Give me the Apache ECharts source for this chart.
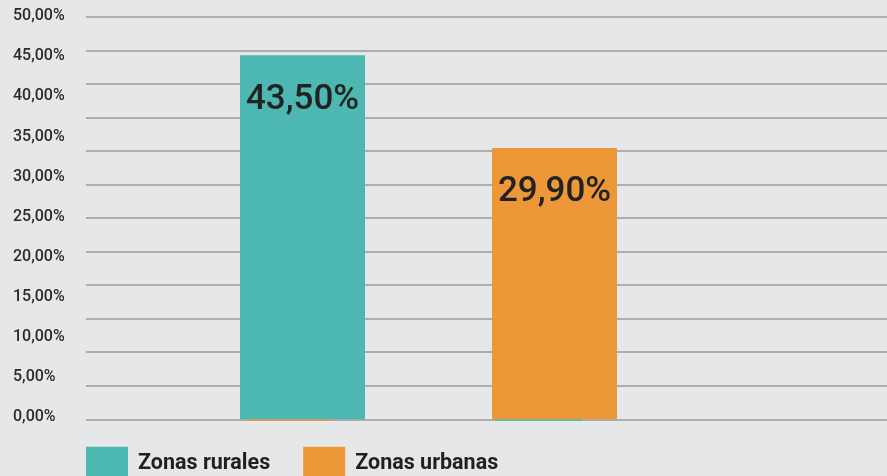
<!DOCTYPE html>
<html>
<head>
<meta charset="utf-8">
<script src="https://cdn.jsdelivr.net/npm/echarts@6/dist/echarts.min.js"></script>
<style>
html,body{margin:0;padding:0;background:#e6e7e9;}
#chart{width:887px;height:476px;}
</style>
</head>
<body>
<div id="chart"></div>
<script>
// ---- data ----
const categories = ['Zonas rurales', 'Zonas urbanas'];
const barHeights = [45.2, 33.7];            // bar heights as drawn against the 0–50 scale
const labelTexts = ['43,50%', '29,90%'];     // printed values
const baseStrips = [0.2, 0.2];               // thin strips at the base (other colour)
const yTicks = [0, 5, 10, 15, 20, 25, 30, 35, 40, 45, 50];
const gridLineCount = 12;                    // gridline intervals drawn in the reference

const teal = '#4db8b1';
const orange = '#ec9839';
const textFont = 'Roboto';

const chart = echarts.init(document.getElementById('chart'), null, {renderer: 'canvas'});

const hiddenX = (gi) => ({type: 'category', gridIndex: gi, data: categories, show: false});

chart.setOption({
  backgroundColor: '#e6e7e9',
  animation: false,
  grid: [
    {left: 86, right: 0, top: 16.7, bottom: 56.7},     // gridlines
    {left: 176.5, width: 504, top: 16.7, bottom: 56.7}, // main bars
    {left: 164.5, width: 499, top: 18.5, bottom: 54.9}, // base strips (just under baseline)
    {left: 86, right: 0, top: 16.3, bottom: 59}         // tick labels
  ],
  xAxis: [hiddenX(0), hiddenX(1), hiddenX(2), hiddenX(3)],
  yAxis: [
    {type: 'value', gridIndex: 0, min: 0, max: gridLineCount, interval: 1,
     axisLabel: {show: false}, axisLine: {show: false}, axisTick: {show: false},
     splitLine: {show: true, lineStyle: {color: '#adadaf', width: 2}}},
    {type: 'value', gridIndex: 1, min: 0, max: 50, show: false, splitLine: {show: false}},
    {type: 'value', gridIndex: 2, min: 0, max: 50, show: false, splitLine: {show: false}},
    {type: 'value', gridIndex: 3, min: yTicks[0], max: yTicks[yTicks.length - 1], interval: 5,
     axisLine: {show: false}, axisTick: {show: false}, splitLine: {show: false},
     axisLabel: {
       align: 'left', margin: 73, color: '#2b2b2b', fontSize: 16, fontWeight: 500,
       fontFamily: textFont,
       formatter: v => v.toFixed(2).replace('.', ',') + '%'
     }}
  ],
  legend: {
    data: categories,
    left: 86, top: 446.7, padding: 0,
    itemWidth: 42, itemHeight: 34, itemGap: 33,
    icon: 'rect',
    textStyle: {fontSize: 21.5, fontWeight: 'bold', color: '#231f20', fontFamily: textFont,
                padding: [0, 0, 0, 5]}
  },
  series: [
    {
      name: 'strip-u', type: 'bar', xAxisIndex: 2, yAxisIndex: 2, z: 1,
      data: [baseStrips[0], '-'], barWidth: 88, barGap: '-100%',
      itemStyle: {color: orange}
    },
    {
      name: 'strip-r', type: 'bar', xAxisIndex: 2, yAxisIndex: 2, z: 1,
      data: ['-', baseStrips[1]], barWidth: 88, barGap: '-100%',
      itemStyle: {color: teal}
    },
    {
      name: categories[0], type: 'bar', xAxisIndex: 1, yAxisIndex: 1, z: 3,
      data: [barHeights[0], '-'], barWidth: 125, barGap: '-100%',
      itemStyle: {color: teal},
      label: {show: true, position: 'insideTop', distance: 27,
              formatter: () => labelTexts[0],
              fontSize: 35, fontWeight: 500, color: '#222', fontFamily: textFont}
    },
    {
      name: categories[1], type: 'bar', xAxisIndex: 1, yAxisIndex: 1, z: 3,
      data: ['-', barHeights[1]], barWidth: 125, barGap: '-100%',
      itemStyle: {color: orange},
      label: {show: true, position: 'insideTop', distance: 27,
              formatter: () => labelTexts[1],
              fontSize: 35, fontWeight: 500, color: '#222', fontFamily: textFont}
    }
  ]
});
</script>
</body>
</html>
